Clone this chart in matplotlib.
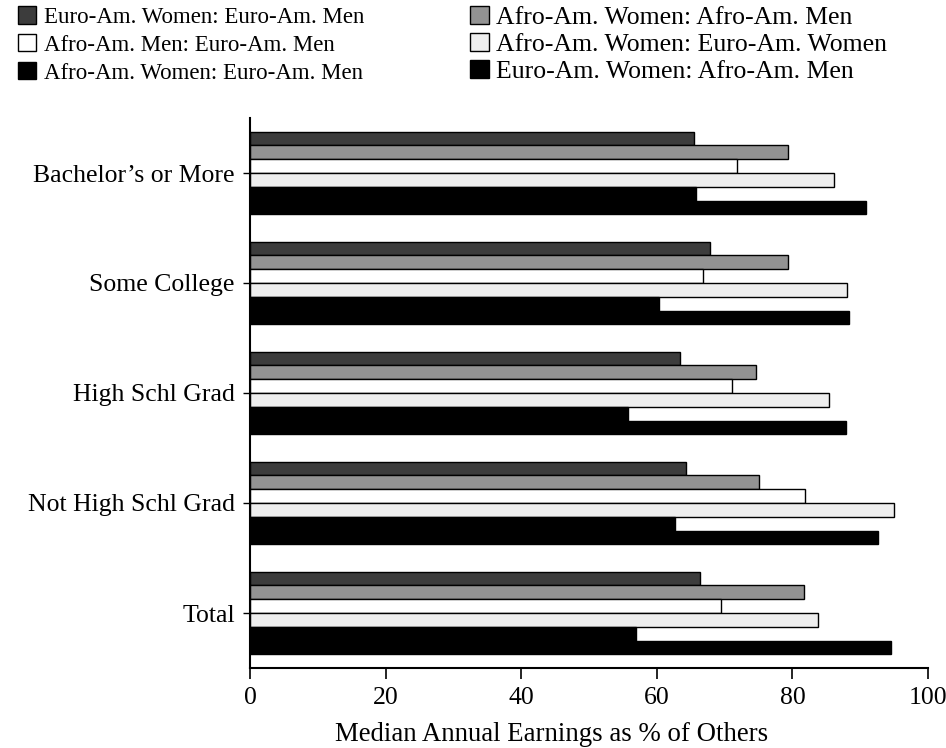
import matplotlib
matplotlib.use("Agg")
import matplotlib.pyplot as plt
import numpy as np
from matplotlib.patches import Patch

# ---- data ----
categories = ["Total", "Not High Schl Grad", "High Schl Grad",
              "Some College", "Bachelor\u2019s or More"]
series_labels = [
    "Euro-Am. Women: Euro-Am. Men",
    "Afro-Am. Women: Afro-Am. Men",
    "Afro-Am. Men: Euro-Am. Men",
    "Afro-Am. Women: Euro-Am. Women",
    "Afro-Am. Women: Euro-Am. Men",
    "Euro-Am. Women: Afro-Am. Men",
]
euro_w_euro_m = [66.4, 64.3, 63.4, 67.9, 65.5]
afro_w_afro_m = [81.7, 75.0, 74.7, 79.3, 79.3]
afro_m_euro_m = [69.5, 81.8, 71.1, 66.8, 71.8]
afro_w_euro_w = [83.8, 95.0, 85.4, 88.0, 86.2]
afro_w_euro_m = [57.0, 62.7, 55.8, 60.3, 65.8]
euro_w_afro_m = [94.6, 92.6, 87.9, 88.3, 90.8]
xticks = [0, 20, 40, 60, 80, 100]
xlabel = "Median Annual Earnings as % of Others"

series_values = [euro_w_euro_m, afro_w_afro_m, afro_m_euro_m,
                 afro_w_euro_w, afro_w_euro_m, euro_w_afro_m]
face_colors = ["#3c3c3c", "#939393", "#ffffff", "#eeeeee", "#000000", "#000000"]

plt.rcParams['font.family'] = ['Liberation Serif', 'DejaVu Serif']

fig = plt.figure(figsize=(9.46, 7.48), dpi=100)
ax = fig.add_axes([250 / 946, 1 - 668 / 748, 678 / 946, 550 / 748])

h = 0.1257
y = np.arange(len(categories))
for i, (vals, fc) in enumerate(zip(series_values, face_colors)):
    ax.barh(y + (2.5 - i) * h, vals, height=h, color=fc,
            edgecolor="black", linewidth=1.0, label=series_labels[i], zorder=2 + i * 0.01)

ax.set_xlim(0, 100)
ax.set_ylim(-0.5, 4.5)
ax.set_xticks(xticks)
ax.set_xticklabels([str(t) for t in xticks])
ax.set_yticks(y)
ax.set_yticklabels(categories)
ax.tick_params(axis='both', labelsize=18.5, direction='out', color='black')
ax.tick_params(axis='x', length=8, width=1.2, pad=6)
ax.tick_params(axis='y', length=5, width=1.0, pad=6)
ax.set_xlabel(xlabel, fontsize=19.3, labelpad=8)
ax.xaxis.set_label_coords((552 - 250) / 678, -0.099)
for s in ["top", "right"]:
    ax.spines[s].set_visible(False)
for s in ["left", "bottom"]:
    ax.spines[s].set_linewidth(1.5)

handles = [Patch(facecolor=fc, edgecolor="black", linewidth=1.0) for fc in face_colors]
left_idx = [0, 2, 4]
right_idx = [1, 3, 5]
fig.legend([handles[i] for i in left_idx], [series_labels[i] for i in left_idx],
           frameon=False, fontsize=16.5, handlelength=0.8, handleheight=0.8,
           handletextpad=0.35, labelspacing=0.27, borderaxespad=0, borderpad=0,
           loc="upper left", bbox_to_anchor=(18 / 946, 1 - 6 / 748))
fig.legend([handles[i] for i in right_idx], [series_labels[i] for i in right_idx],
           frameon=False, fontsize=18.5, handlelength=0.72, handleheight=0.72,
           handletextpad=0.3, labelspacing=0.15, borderaxespad=0, borderpad=0,
           loc="upper left", bbox_to_anchor=(470 / 946, 1 - 6 / 748))

fig.savefig("out.png", dpi=100)
